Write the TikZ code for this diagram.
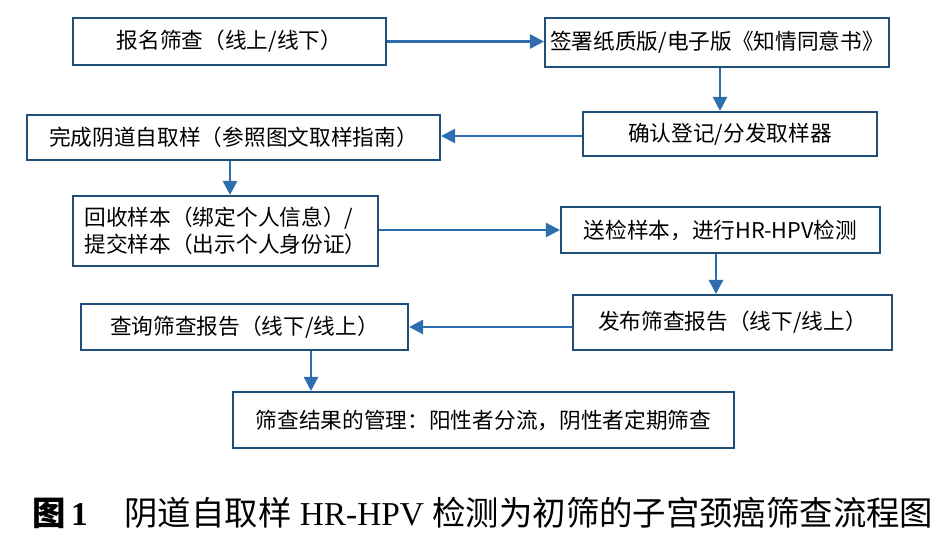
\documentclass[tikz,border=0pt]{standalone}
\usepackage{fontspec}
\setmainfont{Liberation Serif}
\newfontfamily\cjk{Noto Sans CJK SC}
\usetikzlibrary{arrows.meta}
\begin{document}
\begin{tikzpicture}[x=0.03cm,y=-0.03cm,
  box/.style={draw=boxc,line width=1.8pt,inner sep=0pt,font=\cjk\fontsize{18.5}{23}\selectfont,align=center},
  arr/.style={draw=arrc,line width=2.2pt,-{Triangle[length=12pt,width=12pt]}}]
\definecolor{boxc}{HTML}{1F4E79}
\definecolor{arrc}{HTML}{2E6DB0}
\useasboundingbox[fill=white] (0,0) rectangle (949,551);
\node[box,minimum width=313*0.03cm,minimum height=47*0.03cm] (a) at (229.5,41.5) {报名筛查（线上/线下）};
\node[box,minimum width=344*0.03cm,minimum height=49*0.03cm] (b) at (717,42.5) {签署纸质版/电子版《知情同意书》};
\node[box,minimum width=294*0.03cm,minimum height=44*0.03cm] (c) at (730,134) {确认登记/分发取样器};
\node[box,minimum width=413*0.03cm,minimum height=45*0.03cm] (d) at (233.5,137.5) {完成阴道自取样（参照图文取样指南）};
\node[box,minimum width=305*0.03cm,minimum height=70*0.03cm,align=left] (e) at (225.5,231) {回收样本（绑定个人信息）/\\提交样本（出示个人身份证）};
\node[box,minimum width=319*0.03cm,minimum height=46*0.03cm] (f) at (720.5,230) {送检样本，进行HR-HPV检测};
\node[box,minimum width=319*0.03cm,minimum height=55*0.03cm] (g) at (732.5,322.5) {发布筛查报告（线下/线上）};
\node[box,minimum width=327*0.03cm,minimum height=46*0.03cm] (h) at (244.5,327) {查询筛查报告（线下/线上）};
\node[box,minimum width=501*0.03cm,minimum height=56*0.03cm] (i) at (483.5,420) {筛查结果的管理：阳性者分流，阴性者定期筛查};
\draw[arr] (a.east) -- (b.west|-a.east);
\draw[arr] (b.south-|720,0) -- (c.north-|720,0);
\draw[arr] (c.west|-0,136) -- (d.east|-0,136);
\draw[arr] (d.south-|230,0) -- (e.north-|230,0);
\draw[arr] (e.east|-f.west) -- (f.west);
\draw[arr] (f.south-|716,0) -- (g.north-|716,0);
\draw[arr] (g.west|-h.east) -- (h.east);
\draw[arr] (h.south-|311,0) -- (i.north-|311,0);
\node[font=\fontsize{28.5}{33}\selectfont,anchor=west] (cap) at (28,513) {{\cjk\bfseries 图}\textbf{\,1}\hspace{1.1em}{\cjk 阴道自取样} HR-HPV {\cjk 检测为初筛的子宫颈癌筛查流程图}};
\end{tikzpicture}
\end{document}
